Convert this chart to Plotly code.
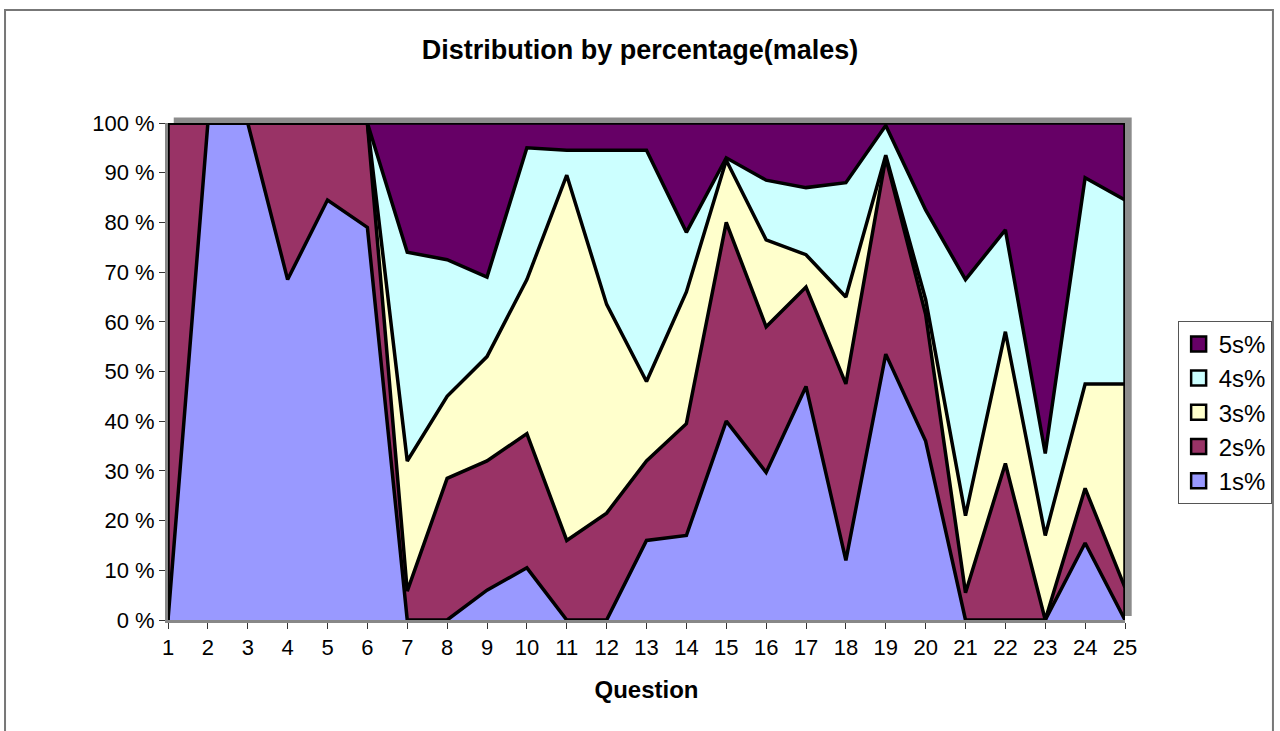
import plotly.graph_objects as go

# Questions on the x axis
questions = list(range(1, 26))

# Share of answers per score (percent of male respondents)
pct_1s = [0, 100, 100, 68.5, 84.5, 79, 0, 0, 6, 10.5, 0, 0, 16, 17, 40, 29.7, 47, 12, 53.5, 36, 0, 0, 0, 15.5, 0]
pct_2s = [100, 0, 0, 31.5, 15.5, 21, 5.8, 28.5, 26, 27, 16, 21.5, 16, 22.5, 40, 29.3, 20, 35.5, 39.5, 25.5, 5.5, 31.5, 0, 11, 6.5]
pct_3s = [0, 0, 0, 0, 0, 0, 26.2, 16.5, 21, 31, 73.5, 42, 16, 26.5, 12.5, 17.5, 6.5, 17.5, 0.5, 3, 15.5, 26.5, 17, 21, 41]
pct_4s = [0, 0, 0, 0, 0, 0, 42, 27.5, 16, 26.5, 5, 31, 46.5, 12, 0.5, 12, 13.5, 23, 6, 18, 47.5, 20.5, 16.5, 41.5, 37]
pct_5s = [0, 0, 0, 0, 0, 0, 26, 27.5, 31, 5, 5.5, 5.5, 5.5, 22, 7, 11.5, 13, 12, 0.5, 17.5, 31.5, 21.5, 66.5, 11, 15.5]

series_names = ["1s%", "2s%", "3s%", "4s%", "5s%"]
series_values = [pct_1s, pct_2s, pct_3s, pct_4s, pct_5s]
series_colors = ["#9999FF", "#993366", "#FFFFCC", "#CCFFFF", "#660066"]

y_ticks = list(range(0, 101, 10))
y_tick_labels = [f"{v} %" for v in y_ticks]

FONT = "Arial, Liberation Sans, sans-serif"

fig = go.Figure()
# Stacked, percent-normalised areas
for name, vals, col in zip(series_names, series_values, series_colors):
    fig.add_trace(go.Scatter(
        x=questions, y=vals, name=name,
        mode="lines", stackgroup="one", groupnorm="percent",
        fillcolor=col, line=dict(color="black", width=3.5),
        hoverinfo="x+y+name", showlegend=False,
    ))

# Legend keys drawn as outlined squares, top series first
for name, col in reversed(list(zip(series_names, series_colors))):
    fig.add_trace(go.Scatter(
        x=[None], y=[None], name=name, mode="markers",
        marker=dict(symbol="square", size=15, color=col,
                    line=dict(color="black", width=2.5)),
        legendgroup=name, showlegend=True,
    ))

fig.update_layout(
    width=1280, height=731,
    margin=dict(l=168, r=155, t=123, b=111, autoexpand=False),
    paper_bgcolor="white", plot_bgcolor="white",
    font=dict(family=FONT, color="black"),
    title=dict(text="<b>Distribution by percentage(males)</b>",
               x=0.5, xanchor="center", y=0.932, yanchor="middle",
               font=dict(size=27, family=FONT)),
    legend=dict(traceorder="normal", x=1.055, xanchor="left",
                y=0.602, yanchor="top", bordercolor="#555555", borderwidth=1,
                bgcolor="white", font=dict(size=24, family=FONT),
                itemwidth=30, tracegroupgap=2),
    showlegend=True,
)

fig.update_xaxes(
    range=[questions[0], questions[-1]], tickmode="array",
    tickvals=questions, ticktext=[str(q) for q in questions],
    ticks="outside", ticklen=6, tickcolor="#333333",
    showline=True, linecolor="#888888", linewidth=3,
    showgrid=False, zeroline=False,
    tickfont=dict(size=22, family=FONT),
    title=dict(text="<b>Question</b>", font=dict(size=24, family=FONT), standoff=22),
)
fig.update_yaxes(
    range=[0, 100], tickmode="array", tickvals=y_ticks, ticktext=y_tick_labels,
    ticks="outside", ticklen=6, tickcolor="#333333",
    showline=True, linecolor="#888888", linewidth=3,
    showgrid=False, zeroline=False,
    tickfont=dict(size=22, family=FONT),
)

# Gray depth wall behind the plot area, plus outer chart border
fig.add_shape(type="rect", xref="paper", yref="paper",
              x0=0.006, x1=1.007, y0=0.008, y1=1.011,
              fillcolor="#8c8c8c", line=dict(width=0), layer="below")
fig.add_shape(type="rect", xref="paper", yref="paper",
              x0=-0.1703, x1=1.1546, y0=-0.25, y1=1.2274,
              fillcolor="rgba(0,0,0,0)", line=dict(color="#777777", width=2), layer="below")
# Closing edges of the area block
for q in (questions[0], questions[-1]):
    fig.add_shape(type="line", xref="x", yref="y", x0=q, x1=q, y0=0, y1=100,
                  line=dict(color="black", width=3.5))

fig.write_html("out.html")
